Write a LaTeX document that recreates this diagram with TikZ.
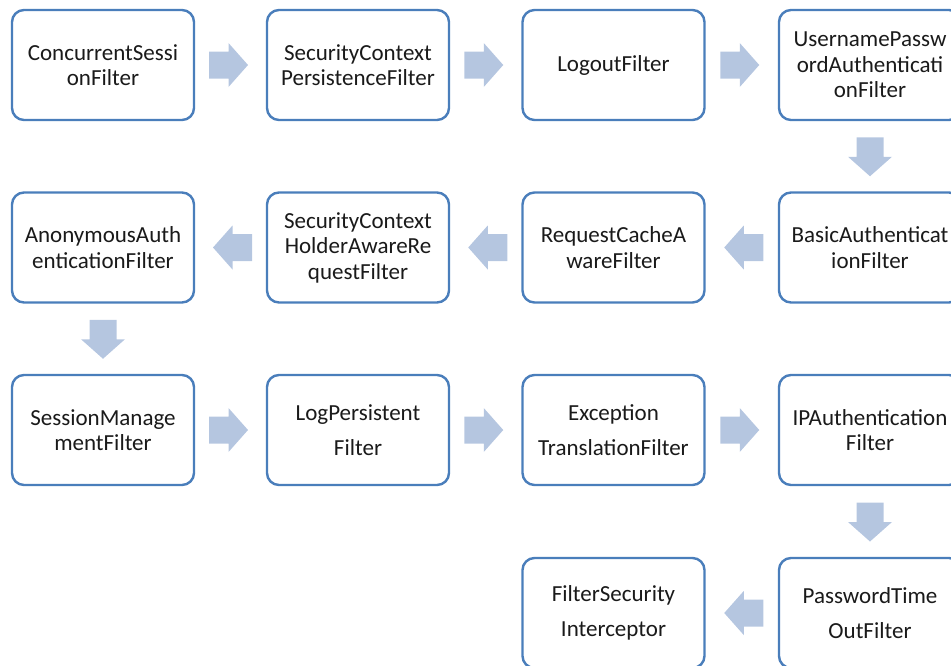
\documentclass[tikz,border=0pt]{standalone}
\usepackage{fontspec}
\setmainfont{Carlito}
\usetikzlibrary{calc}
\definecolor{boxline}{HTML}{4A7EBB}
\definecolor{arrowfill}{HTML}{B5C6E0}
\definecolor{textcol}{HTML}{1A1A1A}
\tikzset{
  filterbox/.style={draw=boxline, line width=2.4pt, rounded corners=12pt, fill=white,
    minimum width=182pt, minimum height=110pt, inner sep=0pt, align=center,
    text=textcol, font=\fontsize{23}{25.5}\selectfont},
  pics/flowarrow/.style={code={
    \fill[arrowfill] (-19.5,-13.5) -- (0,-13.5) -- (0,-22) -- (19.5,0) -- (0,22) -- (0,13.5) -- (-19.5,13.5) -- cycle;
  }}
}
\begin{document}
\begin{tikzpicture}[x=1pt,y=1pt]
\useasboundingbox (0,0) rectangle (951,-665);
% row 1
\node[filterbox] (n1) at (103,-65) {ConcurrentSessi\\onFilter};
\node[filterbox] (n2) at (358,-65) {SecurityContext\\PersistenceFilter};
\node[filterbox] (n3) at (613.5,-65) {LogoutFilter};
\node[filterbox] (n4) at (870,-65) {UsernamePassw\\ordAuthenticati\\onFilter};
% row 2
\node[filterbox] (n5) at (870,-247.5) {BasicAuthenticat\\ionFilter};
\node[filterbox] (n6) at (613.5,-247.5) {RequestCacheA\\wareFilter};
\node[filterbox] (n7) at (358,-247.5) {SecurityContext\\HolderAwareRe\\questFilter};
\node[filterbox] (n8) at (103,-247.5) {AnonymousAuth\\enticationFilter};
% row 3
\node[filterbox] (n9) at (103,-430) {SessionManage\\mentFilter};
\node[filterbox] (n10) at (358,-430) {LogPersistent\\[9.5pt]Filter};
\node[filterbox] (n11) at (613.5,-430) {Exception\\[9.5pt]TranslationFilter};
\node[filterbox] (n12) at (870,-430) {IPAuthentication\\Filter};
% row 4
\node[filterbox] (n13) at (870,-613) {PasswordTime\\[9.5pt]OutFilter};
\node[filterbox] (n14) at (613.5,-613) {FilterSecurity\\[9.5pt]Interceptor};
% block arrows between consecutive filters
\pic at ($(n1.east)!0.5!(n2.west)+(-2,0)$) {flowarrow};
\pic at ($(n2.east)!0.5!(n3.west)+(-2,0)$) {flowarrow};
\pic at ($(n3.east)!0.5!(n4.west)+(-2,0)$) {flowarrow};
\pic[rotate=-90] at ($(n4.south)!0.5!(n5.north)+(0,-0.5)$) {flowarrow};
\pic[rotate=180] at ($(n5.west)!0.5!(n6.east)+(2,0)$) {flowarrow};
\pic[rotate=180] at ($(n6.west)!0.5!(n7.east)+(2,0)$) {flowarrow};
\pic[rotate=180] at ($(n7.west)!0.5!(n8.east)+(2,0)$) {flowarrow};
\pic[rotate=-90] at ($(n8.south)!0.5!(n9.north)+(0,-0.5)$) {flowarrow};
\pic at ($(n9.east)!0.5!(n10.west)+(-2,0)$) {flowarrow};
\pic at ($(n10.east)!0.5!(n11.west)+(-2,0)$) {flowarrow};
\pic at ($(n11.east)!0.5!(n12.west)+(-2,0)$) {flowarrow};
\pic[rotate=-90] at ($(n12.south)!0.5!(n13.north)+(0,-0.5)$) {flowarrow};
\pic[rotate=180] at ($(n13.west)!0.5!(n14.east)+(2,0)$) {flowarrow};
\end{tikzpicture}
\end{document}
